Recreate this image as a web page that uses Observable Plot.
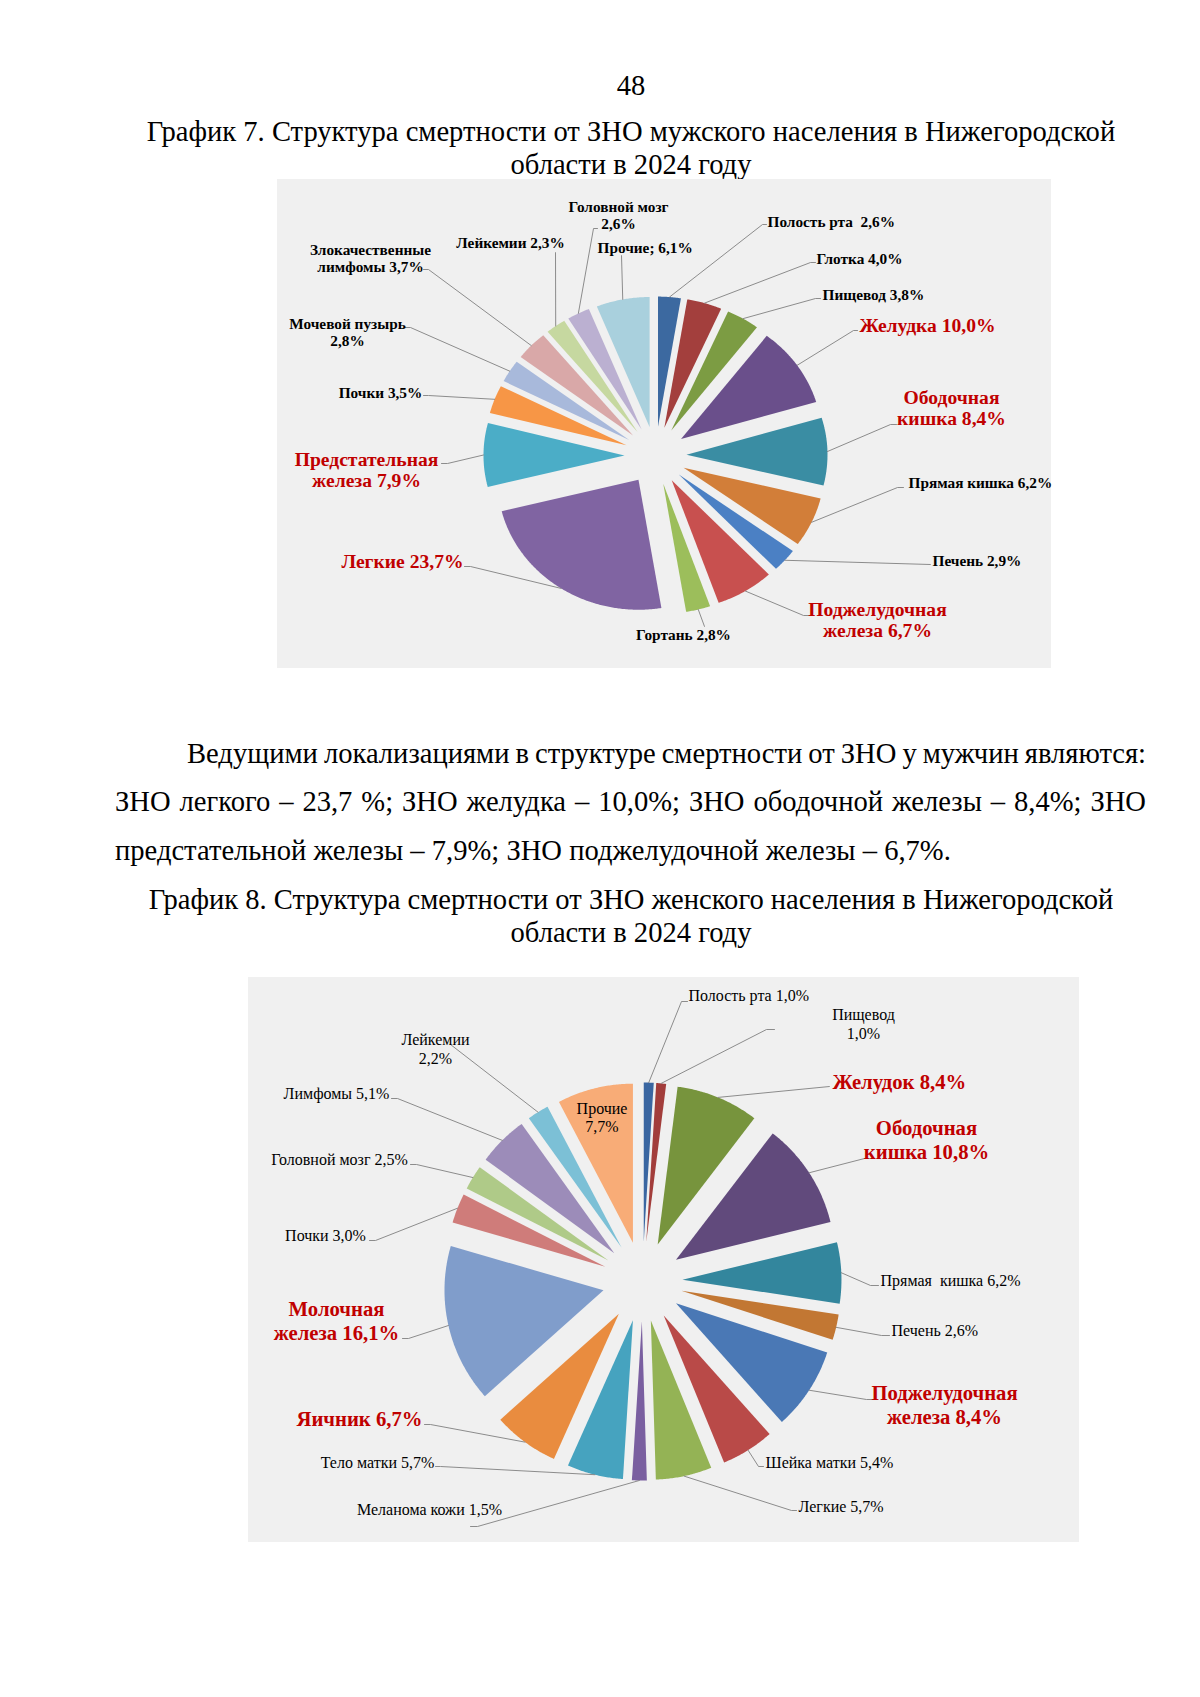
<!DOCTYPE html>
<html lang="ru"><head><meta charset="utf-8">
<script src="https://cdn.jsdelivr.net/npm/d3@7"></script>
<script src="https://cdn.jsdelivr.net/npm/@observablehq/plot@0.6"></script>
<style>
html,body{margin:0;padding:0;background:#fff}
#page{position:relative;width:1200px;height:1697px;overflow:hidden;font-family:"Liberation Serif","Times New Roman",serif;color:#000}
.ln{position:absolute;white-space:nowrap;line-height:30px;height:30px}
.chart{position:absolute}
</style></head><body><div id="page"></div>
<script>
// ---------- DATA: men (График 7) ----------
const maleNames = ["Полость рта","Глотка","Пищевод","Желудка","Ободочная кишка","Прямая кишка","Печень","Поджелудочная железа","Гортань","Легкие","Предстательная железа","Почки","Мочевой пузырь","Злокачественные лимфомы","Лейкемии","Головной мозг","Прочие"];
const maleValues = [2.6,4.0,3.8,10.0,8.4,6.2,2.9,6.7,2.8,23.7,7.9,3.5,2.8,3.7,2.3,2.6,6.1];
const maleLabels = ["Полость рта  2,6%","Глотка 4,0%","Пищевод 3,8%","Желудка 10,0%","Ободочная\nкишка 8,4%","Прямая кишка 6,2%","Печень 2,9%","Поджелудочная\nжелеза 6,7%","Гортань 2,8%","Легкие 23,7%","Предстательная\nжелеза 7,9%","Почки 3,5%","Мочевой пузырь\n2,8%","Злокачественные\nлимфомы 3,7%","Лейкемии 2,3%","Головной мозг\n2,6%","Прочие; 6,1%"];
const maleHighlight = [0,0,0,1,1,0,0,1,0,1,1,0,0,0,0,0,0];

// ---------- DATA: women (График 8) ----------
const femaleNames = ["Полость рта","Пищевод","Желудок","Ободочная кишка","Прямая кишка","Печень","Поджелудочная железа","Шейка матки","Легкие","Меланома кожи","Тело матки","Яичник","Молочная железа","Почки","Головной мозг","Лимфомы","Лейкемии","Прочие"];
const femaleValues = [1.0,1.0,8.4,10.8,6.2,2.6,8.4,5.4,5.7,1.5,5.7,6.7,16.1,3.0,2.5,5.1,2.2,7.7];
const femaleLabels = ["Полость рта 1,0%","Пищевод\n1,0%","Желудок 8,4%","Ободочная\nкишка 10,8%","Прямая  кишка 6,2%","Печень 2,6%","Поджелудочная\nжелеза 8,4%","Шейка матки 5,4%","Легкие 5,7%","Меланома кожи 1,5%","Тело матки 5,7%","Яичник 6,7%","Молочная\nжелеза 16,1%","Почки 3,0%","Головной мозг 2,5%","Лимфомы 5,1%","Лейкемии\n2,2%","Прочие\n7,7%"];
const femaleHighlight = [0,0,1,1,0,0,1,0,0,0,0,1,1,0,0,0,0,0];

// ---------- STYLES / LAYOUT ----------
const malePalette = ["#3C69A0","#A33F3D","#7C9C43","#6A4F8B","#3A8DA3","#D27E39","#4B80C4","#C8504F","#9CBE5B","#8064A2","#4BADC7","#F79646","#A8B9DB","#D9A8A8","#C6D8A0","#BBB0D1","#A9D0DD"];
const femalePalette = ["#3A66A1","#A23D3B","#77943D","#614A7C","#33869D","#C27733","#4A78B5","#B94A48","#94B355","#7A5FA0","#46A3BF","#E98C3F","#809DCB","#CF7C7A","#AFCA88","#9C8CB9","#7CC0D6","#F8AC77"];
const RED = "#C00000";

// label layout: [x, y, textAnchor, elbowX, elbowY, tickX]  (box pixels)
const maleLayout = [
  [490,42,"start",485,45,489],
  [539,79,"start",533,83,538],
  [545,115,"start",538,119,543],
  [582,146,"start",576,151,580],
  [674,228,"middle",613,245,619],
  [631,303,"start",620,308,626],
  [655,381,"start",653,385,653],
  [600,440,"middle",526,436,531],
  [406,455,"middle",427,447,427],
  [125,382,"middle",193,387,187],
  [89,290,"middle",170,284,164],
  [103,213,"middle",151,216,146],
  [70,153,"middle",133,148,127],
  [93,79,"middle",151,90,146],
  [233,63,"middle",278,73,278],
  [341,36,"middle",316,49,320],
  [320,68,"start",344,76,344]
];
const femaleLayout = [
  [440,18,"start",433,24,439],
  [615,46,"middle",518,52,526],
  [584,104,"start",581,109,581],
  [678,162,"middle",616,181,623],
  [632,303,"start",622,308,630],
  [643,353,"start",633,358,641],
  [696,427,"middle",618,422,624],
  [517,485,"start",510,489,515],
  [550,529,"start",543,533,548],
  [181,532,"middle",229,549,222],
  [129,485,"middle",192,489,187],
  [111,441,"middle",182,447,176],
  [88,343,"middle",160,361,154],
  [77,258,"middle",127,263,121],
  [91,182,"middle",168,187,162],
  [88,116,"middle",149,121,143],
  [187,71,"middle",202,67,202],
  {inside:169}
];

function pieChart(cfg){
  const {values, labels, highlight, palette, layout, W, H, cx, cy, rx, ry, dx, dy, txt} = cfg;
  const total = d3.sum(values);
  const slices = [], leaders = [], texts = [];
  let acc = 0;
  values.forEach((v,i)=>{
    const a0 = acc/total*2*Math.PI; acc += v; const a1 = acc/total*2*Math.PI; const am = (a0+a1)/2;
    const ox = cx + dx*Math.sin(am), oy = cy - dy*Math.cos(am);
    slices.push({i, x:ox, y:oy, c:palette[i]});
    const n = Math.max(2, Math.ceil((a1-a0)*180/Math.PI*2));
    for(let k=0;k<=n;k++){ const a = a0+(a1-a0)*k/n; slices.push({i, x:ox+rx*Math.sin(a), y:oy-ry*Math.cos(a), c:palette[i]}); }
    const L = layout[i];
    const hl = highlight[i] === 1;
    if (L.inside){
      texts.push({label:labels[i], x:cx+L.inside*Math.sin(am), y:cy-L.inside*Math.cos(am), anchor:"middle", hl});
    } else {
      texts.push({label:labels[i], x:L[0], y:L[1], anchor:L[2], hl});
      const ax = cx + (dx+rx)*Math.sin(am), ay = cy - (dy+ry)*Math.cos(am);
      leaders.push({i, x:ax, y:ay}, {i, x:L[3], y:L[4]}, {i, x:L[5], y:L[4]});
    }
  });
  const textMarks = [];
  for (const anchor of ["start","middle","end"]) for (const hl of [false,true]) {
    const d = texts.filter(t=>t.anchor===anchor && t.hl===hl);
    if (!d.length) continue;
    const s = hl ? txt.red : txt.black;
    textMarks.push(Plot.text(d, {x:"x", y:"y", text:"label", textAnchor:anchor, fill: hl?RED:"#000",
      fontSize:s.size, fontWeight:s.weight, lineHeight:s.lh, fontFamily:"Liberation Serif"}));
  }
  return Plot.plot({
    width:W, height:H, margin:0,
    x:{domain:[0,W], range:[0,W], axis:null},
    y:{domain:[0,H], range:[0,H], axis:null},
    color:{type:"identity"},
    style:{background:"#F0F0F0", fontFamily:"Liberation Serif", overflow:"visible"},
    marks:[
      Plot.line(slices, {x:"x", y:"y", z:"i", fill:"c", stroke:"none", curve:"linear"}),
      Plot.line(leaders, {x:"x", y:"y", z:"i", stroke:"#808080", strokeWidth:0.9}),
      ...textMarks
    ]
  });
}

const page = document.getElementById("page");

// ---------- document text ----------
const ctx = document.createElement("canvas").getContext("2d");
function measure(t, size){ ctx.font = `${size}px "Liberation Serif"`; return ctx.measureText(t).width; }
const titleLine1 = "График 7. Структура смертности от ЗНО мужского населения в Нижегородской";
const FS = 100*969/measure(titleLine1,100);

const docLines = [
  {t:"48", center:631, y:86},
  {t:titleLine1, center:631, y:132},
  {t:"области в 2024 году", center:631, y:165},
  {t:"Ведущими локализациями в структуре смертности от ЗНО у мужчин являются:", left:187, right:1146, y:753.5},
  {t:"ЗНО легкого – 23,7 %; ЗНО желудка – 10,0%; ЗНО ободочной железы – 8,4%; ЗНО", left:115, right:1146, y:801.5},
  {t:"предстательной железы – 7,9%; ЗНО поджелудочной железы – 6,7%.", left:115, y:851},
  {t:"График 8. Структура смертности от ЗНО женского населения в Нижегородской", center:631, y:900},
  {t:"области в 2024 году", center:631, y:933}
];
for (const L of docLines){
  const div = document.createElement("div");
  div.className = "ln"; div.textContent = L.t;
  div.style.fontSize = FS + "px";
  div.style.top = (L.y - 15) + "px";
  const w = measure(L.t, FS);
  if (L.center !== undefined){ div.style.left = (L.center - w/2) + "px"; }
  else {
    div.style.left = L.left + "px";
    if (L.right !== undefined){
      const spaces = (L.t.match(/ /g)||[]).length;
      div.style.wordSpacing = ((L.right - L.left - w)/spaces) + "px";
    }
  }
  page.appendChild(div);
}

// ---------- charts ----------
function place(svg, left, top){
  const wrap = document.createElement("div");
  wrap.className = "chart"; wrap.style.left = left+"px"; wrap.style.top = top+"px";
  wrap.appendChild(svg); page.appendChild(wrap);
}
place(pieChart({values:maleValues, labels:maleLabels, highlight:maleHighlight, palette:malePalette, layout:maleLayout,
  W:774, H:489, cx:378, cy:276, rx:141, ry:130, dx:31, dy:29,
  txt:{black:{size:15.3, weight:"bold", lh:1.1}, red:{size:19.6, weight:"bold", lh:1.1}}}), 277, 179);
place(pieChart({values:femaleValues, labels:femaleLabels, highlight:femaleHighlight, palette:femalePalette, layout:femaleLayout,
  W:831, H:565, cx:394, cy:304, rx:159, ry:159, dx:40, dy:40,
  txt:{black:{size:16, weight:"normal", lh:1.15}, red:{size:20.7, weight:"bold", lh:1.12}}}), 248, 977);
</script></body></html>
